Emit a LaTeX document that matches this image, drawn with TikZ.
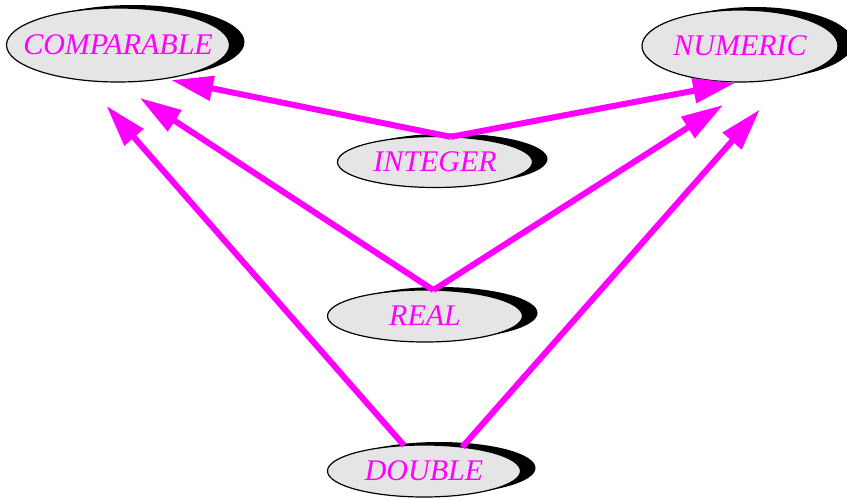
\documentclass[tikz,border=0pt]{standalone}
\usepackage{fontspec}
\setmainfont{Liberation Serif}
\usetikzlibrary{shapes.geometric,shadows,arrows.meta}
\definecolor{typetext}{RGB}{255,0,255}
\definecolor{typefill}{RGB}{229,229,229}

\begin{document}
\begin{tikzpicture}[x=1pt, y=-1pt,
  type/.style={ellipse, draw=black, line width=1.2pt, fill=typefill,
    inner xsep=-20pt, inner ysep=0pt, outer sep=0pt,
    text=typetext, font=\fontsize{30}{33}\selectfont\itshape,
    drop shadow={shadow xshift=15pt, shadow yshift=3pt, fill=black, opacity=1}},
  isa/.style={draw=typetext, line width=6pt, -{Triangle[length=42pt, width=24pt]}}]
\useasboundingbox (0,0) rectangle (847,499);
% types
\node[type, minimum width=223pt, minimum height=74pt] (comparable) at (118,45) {COMPARABLE};
\node[type, minimum width=196pt, minimum height=72pt] (numeric) at (740,46) {NUMERIC};
\node[type, minimum width=195pt, minimum height=51pt] (integer) at (435,162) {INTEGER};
\node[type, minimum width=195pt, minimum height=52pt] (real) at (425,316) {REAL};
\node[type, minimum width=193pt, minimum height=52pt] (double) at (424,471) {DOUBLE};
% inheritance
\draw[isa, shorten >=7pt] (integer.58) -- (comparable.-36);
\draw[isa, shorten >=5pt] (integer.58) -- (numeric.-90);
\draw[isa, shorten >=29pt] (real.72) -- (comparable.-94);
\draw[isa, shorten >=44pt] (real.72) -- (numeric.-60);
\draw[isa, shorten >=34pt] (double.128) -- (comparable.-134);
\draw[isa, shorten >=43pt] (double.32) -- (numeric.-33);
\end{tikzpicture}
\end{document}
